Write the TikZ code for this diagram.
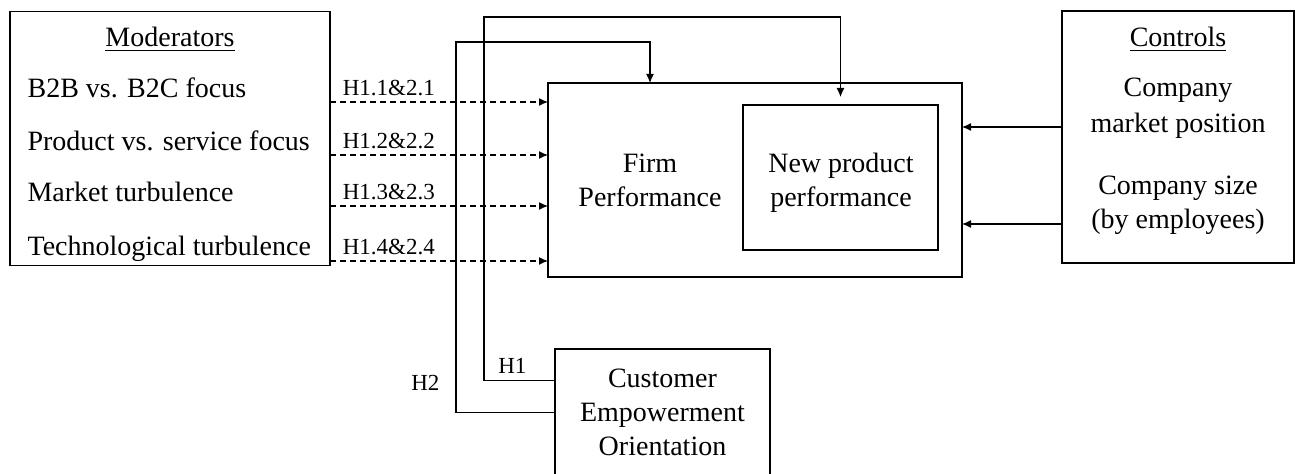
\documentclass[tikz,border=0pt]{standalone}
\usepackage{fontspec}
\setmainfont{Liberation Serif}
\usetikzlibrary{arrows.meta}
\tikzset{
  box/.style={draw,line width=0.7pt,inner sep=0pt,outer sep=0pt},
  txt/.style={font=\fontsize{14}{17}\selectfont,align=center,inner sep=0pt},
  hyp/.style={font=\fontsize{11.5}{13}\selectfont,inner sep=3pt},
}
\begin{document}
\begin{tikzpicture}[x=0.5pt,y=-0.5pt,line width=0.6pt,>={Latex[length=4.5pt,width=4pt]}]
	\useasboundingbox (0,0) rectangle (1295,474);
	% boxes
	\node[box,minimum width=160pt,minimum height=127pt] (mod) at (170,138.5) {};
	\node[box,minimum width=207pt,minimum height=97pt] (firm) at (755,180) {};
	\node[box,minimum width=97.5pt,minimum height=72.5pt] (npp) at (840.5,177.5) {};
	\node[box,minimum width=116pt,minimum height=126pt] (ctrl) at (1178,137) {};
	\node[box,txt,minimum width=107.5pt,minimum height=63.5pt] (ceo) at (662.5,412.5) {Customer\\Empowerment\\Orientation};
	% texts
	\node[txt,anchor=base] (modtitle) at (170,47) {\underline{Moderators}};
	\node[txt,anchor=base west] (m1) at (27,98) {B2B vs. B2C focus};
	\node[txt,anchor=base west] (m2) at (27,151) {Product vs. service focus};
	\node[txt,anchor=base west] (m3) at (27,202) {Market turbulence};
	\node[txt,anchor=base west] (m4) at (27,256) {Technological turbulence};
	\node[txt] (firmtxt) at (650,180) {Firm\\Performance};
	\node[txt] (npptxt) at (841,183) {New product\\performance};
	\node[txt,anchor=base] (ctrltitle) at (1178,47) {\underline{Controls}};
	\node[txt,font=\fontsize{14}{18}\selectfont] (c1) at (1178,108) {Company\\market position};
	\node[txt] (c2) at (1178,205) {Company size\\(by employees)};
	% moderator effects
	\draw[dashed,dash pattern=on 3pt off 2pt,->] ([yshift=-2pt]mod.east |- m1.base) -- ([yshift=-2pt]firm.west |- m1.base) node[hyp,pos=.27,above]{H1.1\&2.1};
	\draw[dashed,dash pattern=on 3pt off 2pt,->] ([yshift=-2pt]mod.east |- m2.base) -- ([yshift=-2pt]firm.west |- m2.base) node[hyp,pos=.27,above]{H1.2\&2.2};
	\draw[dashed,dash pattern=on 3pt off 2pt,->] ([yshift=-2pt]mod.east |- m3.base) -- ([yshift=-2pt]firm.west |- m3.base) node[hyp,pos=.27,above]{H1.3\&2.3};
	\draw[dashed,dash pattern=on 3pt off 2pt,->] ([yshift=-2.5pt]mod.east |- m4.base) -- ([yshift=-2.5pt]firm.west |- m4.base) node[hyp,pos=.27,above]{H1.4\&2.4};
	% controls
	\draw[->] ([yshift=5pt]ctrl.west) -- ([yshift=5pt]firm.east |- ctrl.west);
	\draw[->] ([yshift=-43.5pt]ctrl.west) -- ([yshift=-43.5pt]firm.east |- ctrl.west);
	% main effects
	\draw[->] ([yshift=16pt]ceo.west) -| (484,17) node[hyp,pos=.3,above]{H1} -| ([yshift=4pt]npp.north);
	\draw[->] (ceo.west) -| (456,42) node[hyp,pos=.54,left,xshift=-5pt]{H2} -| (firm.north -| firmtxt);
\end{tikzpicture}
\end{document}
